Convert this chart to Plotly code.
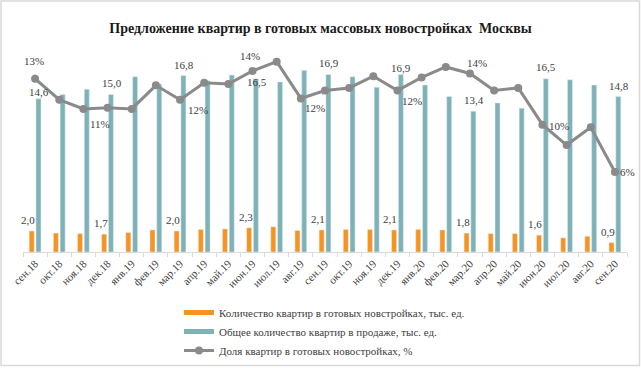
import plotly.graph_objects as go

months = ["сен.18", "окт.18", "ноя.18", "дек.18", "янв.19", "фев.19", "мар.19", "апр.19",
          "май.19", "июн.19", "июл.19", "авг.19", "сен.19", "окт.19", "ноя.19", "дек.19",
          "янв.20", "фев.20", "мар.20", "апр.20", "май.20", "июн.20", "июл.20", "авг.20", "сен.20"]

ready = [2.0, 1.8, 1.75, 1.7, 1.85, 2.1, 2.0, 2.15, 2.2, 2.3, 2.4, 2.05, 2.1,
         2.15, 2.15, 2.1, 2.15, 2.1, 1.8, 1.75, 1.75, 1.6, 1.35, 1.5, 0.9]

total = [14.6, 15.0, 15.5, 15.0, 16.7, 16.0, 16.8, 16.3, 16.85, 16.5, 16.2, 17.3, 16.9,
         16.7, 15.7, 16.9, 15.9, 14.8, 13.4, 14.2, 13.7, 16.5, 16.4, 15.9, 14.8]

share = [13.2, 11.6, 10.9, 11.0, 10.9, 12.7, 11.6, 12.9, 12.8, 13.8, 14.5, 11.7, 12.3,
         12.5, 13.4, 12.3, 13.3, 14.1, 13.6, 12.3, 12.5, 9.7, 8.15, 9.5, 6.1]

labeled = [0, 3, 6, 9, 12, 15, 18, 21, 24]

names = ["Количество квартир в готовых новстройках, тыс. ед.",
         "Общее количество квартир в продаже, тыс. ед.",
         "Доля квартир в готовых новостройках, %"]

def fmt(v):
    return f"{v:.1f}".replace(".", ",")

# label offsets (px) for line labels: (dx, dy, leader)
share_label_pos = {0: (-1, -18, True), 3: (-8, 16, False), 6: (18, 10, False),
                   9: (-3, -15, True), 12: (-10, 17, True), 15: (15, 10, False),
                   18: (7, -11, False), 21: (17, 1, False), 24: (13, 0, False)}
# bar label vertical offsets (px above bar top)
total_label_dy = {0: 1, 3: 6, 6: 5, 9: -9, 12: 6, 15: 1, 18: 5, 21: 6, 24: 5}

FONT = "Liberation Serif"
ORANGE = "#f7931e"
TEAL = "#7fb2b7"
GREY = "#8a8a8a"
TXT = "#404040"
LBL = dict(family=FONT, size=11, color=TXT)

fig = go.Figure()
fig.add_trace(go.Bar(x=months, y=ready, name=names[0], marker_color=ORANGE, showlegend=False))
fig.add_trace(go.Bar(x=months, y=total, name=names[1], marker_color=TEAL, showlegend=False))
fig.add_trace(go.Scatter(x=months, y=share, name=names[2], mode="lines+markers", yaxis="y2",
                         line=dict(color=GREY, width=3), marker=dict(color=GREY, size=8),
                         cliponaxis=False, showlegend=False))

# legend entries (Excel-style wide swatches)
fig.add_trace(go.Scatter(x=[None], y=[None], mode="lines", name=names[0],
                         line=dict(color=ORANGE, width=5)))
fig.add_trace(go.Scatter(x=[None], y=[None], mode="lines", name=names[1],
                         line=dict(color=TEAL, width=5)))
fig.add_trace(go.Scatter(x=[None], y=[None], mode="lines+markers", name=names[2],
                         line=dict(color=GREY, width=3), marker=dict(color=GREY, size=8)))

for i in labeled:
    fig.add_annotation(x=months[i], y=ready[i], xref="x", yref="y", text=fmt(ready[i]),
                       showarrow=False, xshift=-7, yshift=3, yanchor="bottom", font=LBL)
    fig.add_annotation(x=months[i], y=total[i], xref="x", yref="y", text=fmt(total[i]),
                       showarrow=False, xshift=4, yshift=total_label_dy[i] - 2,
                       yanchor="bottom", font=LBL)

for i, (dx, dy, leader) in share_label_pos.items():
    txt = f"{round(share[i])}%"
    if leader:
        fig.add_annotation(x=months[i], y=share[i], xref="x", yref="y2", text=txt,
                           showarrow=True, arrowhead=0, arrowwidth=1, arrowcolor="#a6a6a6",
                           ax=dx, ay=dy, standoff=4, startstandoff=6, font=LBL)
    else:
        fig.add_annotation(x=months[i], y=share[i], xref="x", yref="y2", text=txt,
                           showarrow=False, xshift=dx, yshift=-dy, font=LBL)

W, H = 641, 368
L, R, T, B = 23, 14, 42, 116
pw, ph = W - L - R, H - T - B

fig.add_shape(type="rect", xref="paper", yref="paper",
              x0=(1 - L) / pw, x1=(W - 1.5 - L) / pw,
              y0=-(B - 2.5) / ph, y1=1 + (T - 1) / ph,
              line=dict(color="#d9d9d9", width=1.5), fillcolor="rgba(0,0,0,0)", layer="below")

fig.update_layout(
    width=W, height=H,
    margin=dict(l=L, r=R, t=T, b=B, autoexpand=False),
    paper_bgcolor="white", plot_bgcolor="white",
    barmode="group", bargap=0.44, bargroupgap=0.26,
    title=dict(text="<b>Предложение квартир в готовых массовых новостройках  Москвы</b>",
               x=0.5, xanchor="center", y=1 - 28 / H, yanchor="middle", yref="container",
               font=dict(family=FONT, size=14, color="#1a1a1a")),
    xaxis=dict(type="category", range=[-0.5, len(months) - 0.5], tickangle=-45,
               tickson="boundaries", ticks="outside",
               ticklen=4, tickcolor="#d9d9d9", showline=True, linecolor="#d9d9d9",
               linewidth=1, showgrid=False, automargin=False,
               tickfont=dict(family=FONT, size=11, color=TXT)),
    yaxis=dict(range=[0, 20], visible=False, showgrid=False),
    yaxis2=dict(range=[0, 16], overlaying="y", side="right", visible=False, showgrid=False),
    showlegend=True,
    legend=dict(x=(179 - L) / pw, y=-(298 - (H - B)) / ph, xanchor="left", yanchor="top",
                orientation="v", font=LBL, bgcolor="rgba(0,0,0,0)",
                tracegroupgap=0, itemwidth=30),
)

fig.write_html("out.html", config={"displayModeBar": False},
               post_script="document.body.style.margin='0';")
